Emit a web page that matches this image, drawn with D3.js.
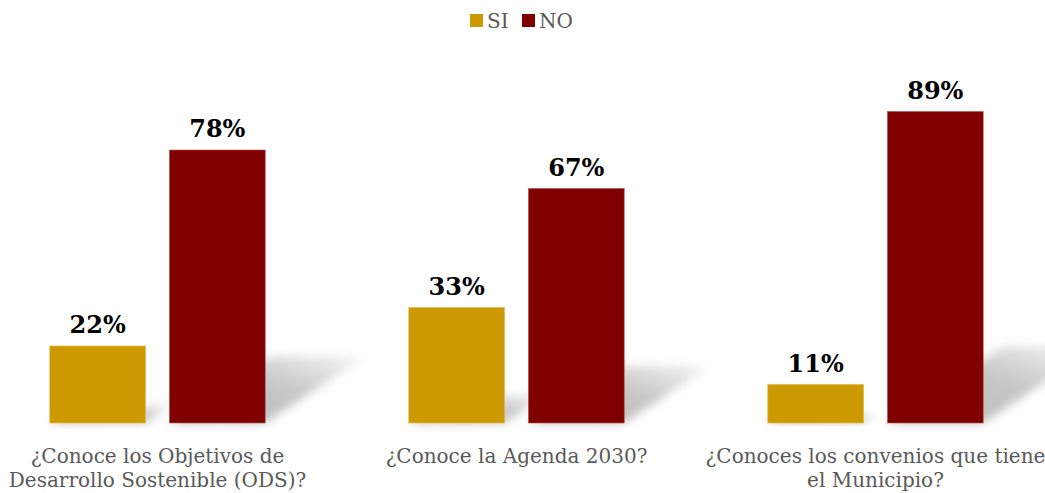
<!DOCTYPE html>
<html>
<head>
<meta charset="utf-8">
<script src="https://cdn.jsdelivr.net/npm/d3@7"></script>
<style>
html,body{margin:0;padding:0;background:#fff;overflow:hidden;}
svg{display:block;}
</style>
</head>
<body>
<svg id="chart" width="1045" height="493"></svg>
<script>
const categories = ["ODS", "Agenda", "Convenios"];
const categoryLines = [
  ["¿Conoce los Objetivos de", "Desarrollo Sostenible (ODS)?"],
  ["¿Conoce la Agenda 2030?"],
  ["¿Conoces los convenios que tiene", "el Municipio?"]
];
const seriesNames = ["SI", "NO"];
const siValues = [22, 33, 11];
const noValues = [78, 67, 89];
const seriesColors = ["#CC9900", "#800000"];

const W = 1045, H = 493;
const svg = d3.select("#chart");
const font = "'DejaVu Serif', serif";

const x0 = d3.scaleBand().domain(categories).range([-22, 1055]).paddingInner(0.4).paddingOuter(0.2);
const x1 = d3.scaleBand().domain(seriesNames).range([0, x0.bandwidth()]).paddingInner(0.2);
const y = d3.scaleLinear().domain([0, 100]).range([423, 73]);
const color = d3.scaleOrdinal().domain(seriesNames).range(seriesColors);

const data = [];
categories.forEach((c, i) => {
  data.push({cat: c, s: "SI", v: siValues[i]});
  data.push({cat: c, s: "NO", v: noValues[i]});
});

const defs = svg.append("defs");
defs.append("filter").attr("id", "blur").attr("x", "-30%").attr("y", "-30%").attr("width", "160%").attr("height", "160%")
  .append("feGaussianBlur").attr("stdDeviation", 5);
const grad = defs.append("linearGradient").attr("id", "shgrad").attr("x1", "0").attr("y1", "1").attr("x2", "1").attr("y2", "0");
grad.append("stop").attr("offset", "0").attr("stop-color", "#000").attr("stop-opacity", 0.27);
grad.append("stop").attr("offset", "0.55").attr("stop-color", "#000").attr("stop-opacity", 0.22);
grad.append("stop").attr("offset", "1").attr("stop-color", "#000").attr("stop-opacity", 0.03);

// shadows
const base = y(0);
svg.append("g").selectAll("path").data(data).join("path")
  .attr("d", d => {
    const xa = x0(d.cat) + x1(d.s), xb = xa + x1.bandwidth();
    const h = base - y(d.v);
    const dx = h * 0.37, dy = h * 0.245;
    return `M${xa},${base}L${xb},${base}L${xb + dx},${base - dy}L${xa + dx},${base - dy}Z`;
  })
  .attr("fill", "url(#shgrad)")
  .attr("filter", "url(#blur)");

// bars
svg.append("g").selectAll("rect").data(data).join("rect")
  .attr("x", d => x0(d.cat) + x1(d.s))
  .attr("y", d => y(d.v))
  .attr("width", x1.bandwidth())
  .attr("height", d => base - y(d.v))
  .attr("fill", d => color(d.s))
  .attr("stroke", d => d.s === "SI" ? "#e0b84a" : "#b05050")
  .attr("stroke-width", 0.6);

// value labels
svg.append("g").selectAll("text").data(data).join("text")
  .attr("x", d => x0(d.cat) + x1(d.s) + x1.bandwidth() / 2)
  .attr("y", d => y(d.v) - 13)
  .attr("text-anchor", "middle")
  .attr("font-family", font)
  .attr("font-weight", "bold")
  .attr("font-size", 24)
  .attr("fill", "#000")
  .text(d => d.v + "%");

// category labels
const cl = svg.append("g").selectAll("text").data(categories).join("text")
  .attr("text-anchor", "middle")
  .attr("font-family", font)
  .attr("font-size", 20)
  .attr("fill", "#595959");
cl.each(function(c, i) {
  const t = d3.select(this);
  const cx = x0(c) + x0.bandwidth() / 2;
  categoryLines[i].forEach((line, j) => {
    t.append("tspan").attr("x", cx).attr("y", 463 + j * 24).text(line);
  });
});

// legend
const leg = svg.append("g");
const legX = [470, 522];
seriesNames.forEach((s, i) => {
  leg.append("rect").attr("x", legX[i]).attr("y", 14).attr("width", 13).attr("height", 13).attr("fill", color(s));
  leg.append("text").attr("x", legX[i] + 17).attr("y", 28)
    .attr("font-family", font).attr("font-size", 20).attr("fill", "#595959").text(s);
});
</script>
</body>
</html>
